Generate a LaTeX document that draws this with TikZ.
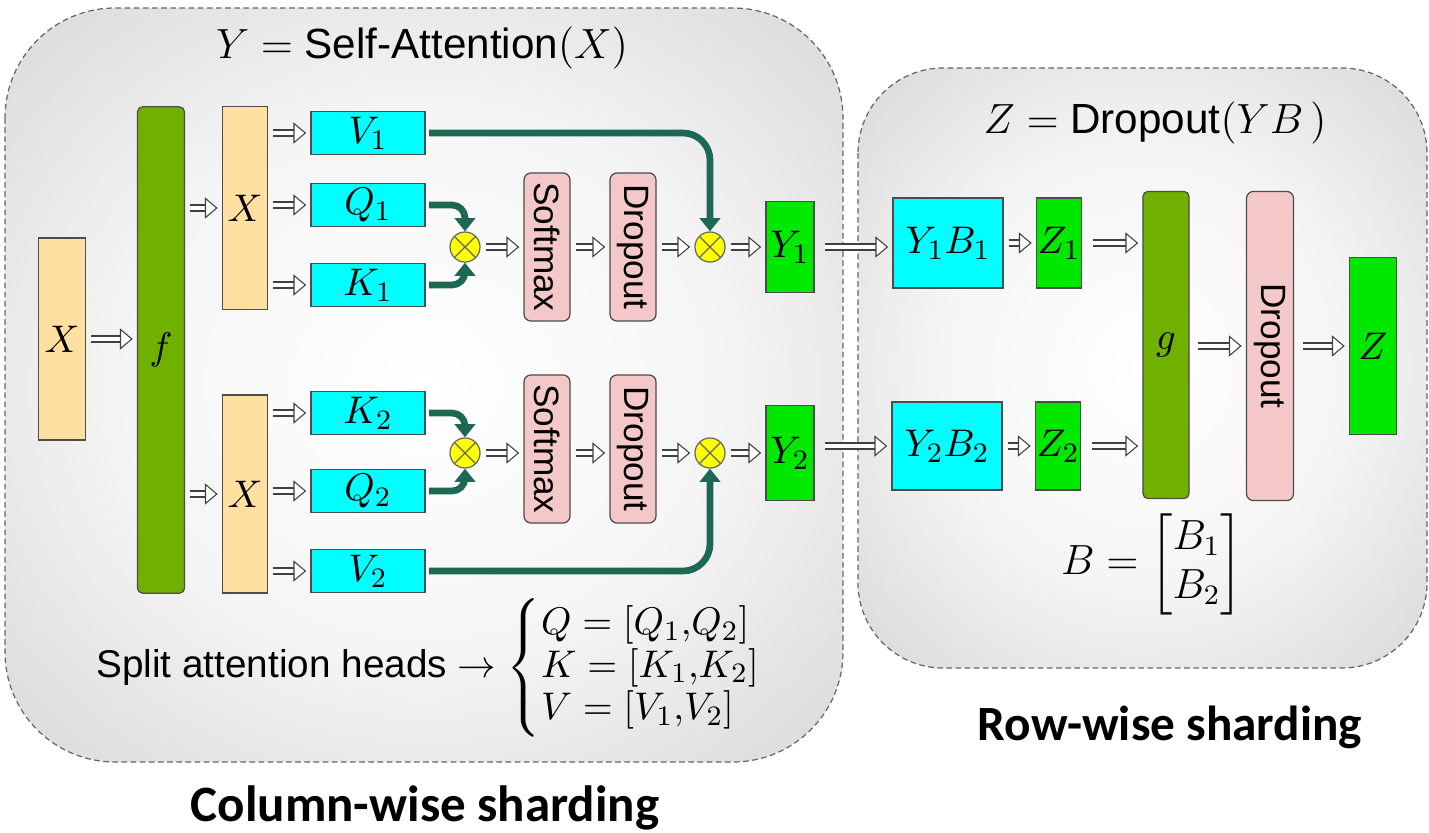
\documentclass[tikz,border=0pt]{standalone}
\usepackage{amsmath}
\usepackage{fontspec}
\setmainfont{Liberation Sans}
\newfontfamily\capfont{Carlito}
\usetikzlibrary{arrows.meta,calc}

\definecolor{xorange}{RGB}{255,224,160}
\definecolor{oliveg}{RGB}{112,176,0}
\definecolor{brightg}{RGB}{0,232,0}
\definecolor{qkvcyan}{RGB}{0,255,255}
\definecolor{pinkbox}{RGB}{244,200,200}
\definecolor{arrteal}{RGB}{28,104,84}
\definecolor{muly}{RGB}{255,255,0}

\pgfdeclareradialshading{panel}{\pgfpoint{0bp}{0bp}}{color(0bp)=(white); color(18bp)=(white!96!black); color(40bp)=(white!82!black); color(55bp)=(white!74!black); color(70bp)=(white!70!black)}

\tikzset{
	blk/.style={draw=black!70, line width=0.35pt, inner sep=0pt, font=\fontsize{11}{13}\selectfont},
	xbox/.style={blk, fill=xorange},
	bar/.style={blk, fill=oliveg, rounded corners=0.05cm},
	qkv/.style={blk, fill=qkvcyan, minimum width=1.14cm, minimum height=0.43cm},
	pbox/.style={blk, fill=pinkbox, rounded corners=0.07cm, font=\fontsize{10}{12}\selectfont},
	gbox/.style={blk, fill=brightg},
	mul/.style={circle, draw=black!60, line width=0.35pt, fill=muly, minimum size=0.3cm, inner sep=0pt,
		path picture={\draw[black!60, line width=0.35pt] (path picture bounding box.north west) -- (path picture bounding box.south east)
			(path picture bounding box.north east) -- (path picture bounding box.south west);}},
	harr/.style={draw=black!75, line width=0.3pt, double=white, double distance=1.4pt,
		shorten <=1.4pt, shorten >=1.2pt,
		-{Triangle[open, fill=white, line width=0.3pt, length=3.6pt, width=6pt]}},
	tarr/.style={draw=arrteal, line width=1.9pt, -{Triangle[length=3.8pt, width=5.8pt]}},
	pnl/.style={dash pattern=on 1.6pt off 1pt, draw=black!60, line width=0.35pt},
}

\begin{document}
\begin{tikzpicture}[x=0.01cm, y=-0.01cm]
	\useasboundingbox (0,0) rectangle (1429,833);
	% panels
	\shade[shading=panel, rounded corners=1.1cm] (5,8) rectangle (843,762);
	\draw[pnl, rounded corners=1.1cm] (5,8) rectangle (843,762);
	\shade[shading=panel, rounded corners=0.85cm] (858,68) rectangle (1427,668);
	\draw[pnl, rounded corners=0.85cm] (858,68) rectangle (1427,668);

	% column-wise part
	\node[xbox, minimum width=0.47cm, minimum height=2.02cm] (x0) at (62,339) {$X$};
	\node[bar, minimum width=0.47cm, minimum height=4.86cm] (f) at (161,350) {$f$};
	\node[xbox, minimum width=0.45cm, minimum height=2.03cm] (xa) at (245,208) {$X$};
	\node[xbox, minimum width=0.45cm, minimum height=1.98cm] (xb) at (245,494) {$X$};

	\node[qkv] (v1) at (368,133) {$V_1$};
	\node[qkv] (q1) at (368,205) {$Q_1$};
	\node[qkv] (k1) at (368,285) {$K_1$};
	\node[qkv] (k2) at (368,413) {$K_2$};
	\node[qkv] (q2) at (368,491) {$Q_2$};
	\node[qkv] (v2) at (368,571) {$V_2$};

	\node[mul] (m1) at (465,247) {};
	\node[pbox, minimum width=0.46cm, minimum height=1.48cm] (s1) at (547,247) {\rotatebox{-90}{Softmax}};
	\node[pbox, minimum width=0.46cm, minimum height=1.48cm] (d1) at (633,247) {\rotatebox{-90}{Dropout}};
	\node[mul] (m2) at (710,247) {};
	\node[gbox, minimum width=0.48cm, minimum height=0.91cm] (y1) at (790,247) {$Y_1$};

	\node[mul] (m3) at (465,453) {};
	\node[pbox, minimum width=0.46cm, minimum height=1.48cm] (s2) at (547,449) {\rotatebox{-90}{Softmax}};
	\node[pbox, minimum width=0.46cm, minimum height=1.48cm] (d2) at (633,449) {\rotatebox{-90}{Dropout}};
	\node[mul] (m4) at (710,453) {};
	\node[gbox, minimum width=0.48cm, minimum height=0.95cm] (y2) at (790,453) {$Y_2$};

	% row-wise part
	\node[qkv, minimum width=1.1cm, minimum height=0.9cm] (yb1) at (948,243) {$Y_1B_1$};
	\node[gbox, minimum width=0.45cm, minimum height=0.9cm] (z1) at (1059,243) {$Z_1$};
	\node[qkv, minimum width=1.1cm, minimum height=0.88cm] (yb2) at (947,446) {$Y_2B_2$};
	\node[gbox, minimum width=0.45cm, minimum height=0.88cm] (z2) at (1058,446) {$Z_2$};
	\node[bar, minimum width=0.46cm, minimum height=3.07cm] (g) at (1166,345) {$g$};
	\node[pbox, minimum width=0.47cm, minimum height=3.09cm] (dr) at (1270,346) {\rotatebox{-90}{Dropout}};
	\node[gbox, minimum width=0.47cm, minimum height=1.77cm] (z) at (1373,346) {$Z$};

	% hollow arrows
	\draw[harr] (x0.east) -- (x0.east -| f.west);
	\draw[harr] (f.east |- xa) -- (xa.west);
	\draw[harr] (f.east |- xb) -- (xb.west);
	\foreach \n in {v1,q1,k1}
		\draw[harr] (xa.east |- \n) -- (\n.west);
	\foreach \n in {k2,q2,v2}
		\draw[harr] (xb.east |- \n) -- (\n.west);
	\draw[harr] (m1.east) -- (s1.west);
	\draw[harr] (s1.east) -- (d1.west);
	\draw[harr] (d1.east) -- (m2.west);
	\draw[harr] (m2.east) -- (y1.west);
	\draw[harr] (m3.east) -- (m3.east -| s2.west);
	\draw[harr] (s2.east |- m3) -- (d2.west |- m3);
	\draw[harr] (d2.east |- m4) -- (m4.west);
	\draw[harr] (m4.east) -- (y2.west);
	\draw[harr, shorten <=3pt] (y1.east) -- (y1.east -| yb1.west);
	\draw[harr, shorten <=3pt] (y2.east |- yb2) -- (yb2.west);
	\draw[harr] (yb1.east) -- (z1.west);
	\draw[harr] (yb2.east) -- (z2.west);
	\draw[harr, shorten <=3pt] (z1.east) -- (z1.east -| g.west);
	\draw[harr, shorten <=3pt] (z2.east) -- (z2.east -| g.west);
	\draw[harr, shorten <=2.5pt] (g.east |- dr) -- (dr.west);
	\draw[harr, shorten <=2.5pt] (dr.east) -- (z.west);

	% attention connectors
	\draw[tarr, rounded corners=0.13cm] ([xshift=1pt]q1.east) -| (m1.north);
	\draw[tarr, rounded corners=0.13cm] ([xshift=1pt]k1.east) -| (m1.south);
	\draw[tarr, rounded corners=0.13cm] ([xshift=1pt]k2.east) -| (m3.north);
	\draw[tarr, rounded corners=0.13cm] ([xshift=1pt]q2.east) -| (m3.south);
	\draw[tarr, rounded corners=0.27cm] ([xshift=1pt]v1.east) -| (m2.north);
	\draw[tarr, rounded corners=0.27cm] ([xshift=1pt]v2.east) -| (m4.south);

	% texts
	\node[font=\fontsize{12}{14}\selectfont] (ttl1) at (422,48) {$Y=$ Self-Attention$(X)$};
	\node[font=\fontsize{12}{14}\selectfont] (ttl2) at (1155,123) {$Z=$ Dropout$(YB\,)$};
	\node[anchor=west, font=\fontsize{11}{13}\selectfont] (split) at (84,668)
		{Split attention heads $\rightarrow\left\{\rule[-16.5pt]{0pt}{38pt}\begin{array}{@{}l@{}}Q=[Q_1{,}Q_2]\\[-1pt] K=[K_1{,}K_2]\\[-1pt] V=[V_1{,}V_2]\end{array}\right.$};
	\node[font=\fontsize{12}{14}\selectfont] (bdef) at (1152,564) {$B=\begin{bmatrix}B_1\\ B_2\end{bmatrix}$};
	\node[font=\capfont\bfseries\fontsize{14.5}{17}\selectfont] (cap1) at (425,808) {Column-wise sharding};
	\node[font=\capfont\bfseries\fontsize{14}{17}\selectfont] (cap2) at (1170,727) {Row-wise sharding};
\end{tikzpicture}
\end{document}
